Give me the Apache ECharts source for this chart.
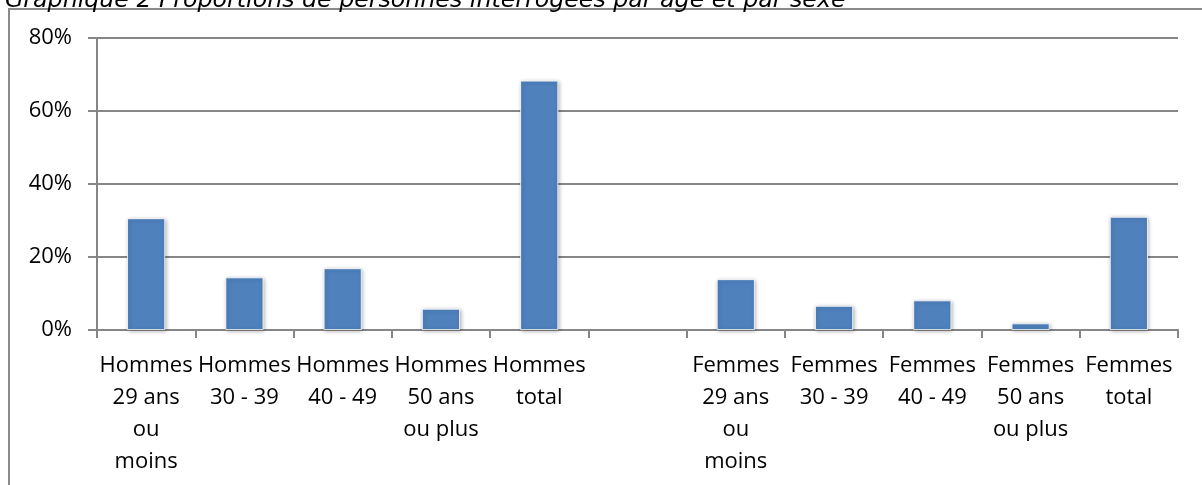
<!DOCTYPE html>
<html>
<head>
<meta charset="utf-8">
<script src="https://cdn.jsdelivr.net/npm/echarts@6/dist/echarts.min.js"></script>
<style>
    html, body { margin: 0; padding: 0; background: #fff; }
    #chart { width: 1202px; height: 485px; }
</style>
</head>
<body>
<div id="chart"></div>
<script>
var categories = [
    "Hommes\n29 ans\nou\nmoins",
    "Hommes\n30 - 39",
    "Hommes\n40 - 49",
    "Hommes\n50 ans\nou plus",
    "Hommes\ntotal",
    "",
    "Femmes\n29 ans\nou\nmoins",
    "Femmes\n30 - 39",
    "Femmes\n40 - 49",
    "Femmes\n50 ans\nou plus",
    "Femmes\ntotal"
];
// proportions en %
var proportions = [30.6, 14.4, 16.9, 5.8, 68.3, null, 13.9, 6.6, 8.1, 1.8, 31.0];
var yTicks = { min: 0, max: 80, interval: 20 };

var titleText = "Graphique 2 Proportions de personnes interrogées par âge et par sexe";
var axisColor = "#868686";
var labelFont = "Open Sans";

var option = {
    animation: false,
    title: {
        text: titleText,
        left: 0,
        top: -16,
        textStyle: {
            fontFamily: "DejaVu Sans",
            fontStyle: "italic",
            fontWeight: "normal",
            fontSize: 23.7,
            color: "#000"
        }
    },
    graphic: [{
        type: "rect",
        shape: { x: 9, y: 9, width: 1400, height: 700 },
        style: { fill: null, stroke: "#8a8a8a", lineWidth: 2 },
        silent: true
    }],
    grid: {
        left: 97,
        right: 24,
        top: 38,
        bottom: 155
    },
    xAxis: {
        type: "category",
        data: categories,
        axisLine: { lineStyle: { color: axisColor, width: 2 } },
        axisTick: { show: true, length: 8, lineStyle: { color: axisColor, width: 2 } },
        axisLabel: {
            interval: 0,
            margin: 20,
            fontFamily: labelFont,
            fontSize: 22,
            lineHeight: 32,
            color: "#000"
        }
    },
    yAxis: {
        type: "value",
        min: yTicks.min,
        max: yTicks.max,
        interval: yTicks.interval,
        axisLine: { show: true, lineStyle: { color: axisColor, width: 2 } },
        axisTick: { show: true, length: 9, lineStyle: { color: axisColor, width: 2 } },
        splitLine: { lineStyle: { color: axisColor, width: 2 } },
        axisLabel: {
            margin: 25,
            fontFamily: labelFont,
            fontSize: 22,
            color: "#000",
            formatter: "{value}%"
        }
    },
    series: [{
        type: "bar",
        data: proportions,
        barWidth: 38,
        itemStyle: {
            color: "#4f81bd",
            borderColor: "#ffffff",
            borderWidth: 0.8,
            shadowBlur: 4,
            shadowColor: "rgba(0,0,0,0.3)",
            shadowOffsetX: 1,
            shadowOffsetY: 1
        }
    }]
};

echarts.init(document.getElementById("chart")).setOption(option);
</script>
</body>
</html>
